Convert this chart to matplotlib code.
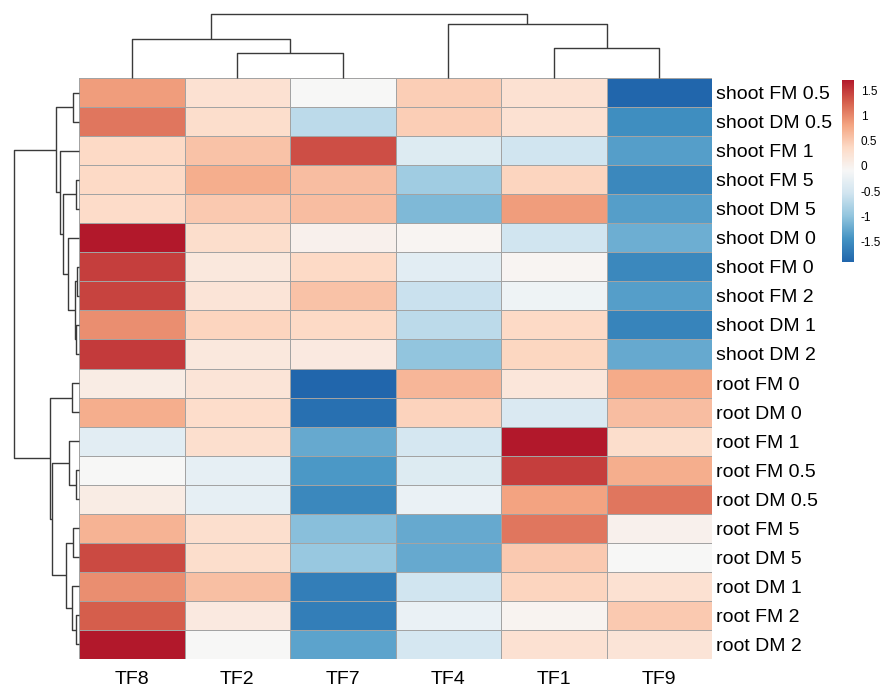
import numpy as np
import matplotlib
matplotlib.use("Agg")
import matplotlib.pyplot as plt
from matplotlib.colors import LinearSegmentedColormap

plt.rcParams['font.family'] = ['Liberation Sans', 'DejaVu Sans']
plt.rcParams['axes.unicode_minus'] = False

# ---------------- data ----------------
columns = ["TF8", "TF2", "TF7", "TF4", "TF1", "TF9"]
rows = ["shoot FM 0.5", "shoot DM 0.5", "shoot FM 1", "shoot FM 5", "shoot DM 5",
        "shoot DM 0", "shoot FM 0", "shoot FM 2", "shoot DM 1", "shoot DM 2",
        "root FM 0", "root DM 0", "root FM 1", "root FM 0.5", "root DM 0.5",
        "root FM 5", "root DM 5", "root DM 1", "root FM 2", "root DM 2"]

tf8 = [0.85, 1.10, 0.35, 0.35, 0.33, 1.70, 1.45, 1.42, 0.95, 1.48,
       0.08, 0.72, -0.35, -0.10, 0.08, 0.68, 1.38, 0.95, 1.25, 1.70]
tf2 = [0.25, 0.30, 0.55, 0.72, 0.50, 0.30, 0.15, 0.20, 0.40, 0.15,
       0.20, 0.32, 0.28, -0.30, -0.30, 0.28, 0.30, 0.58, 0.12, -0.10]
tf7 = [-0.10, -0.70, 1.35, 0.60, 0.60, 0.00, 0.35, 0.55, 0.35, 0.12,
       -1.90, -1.80, -1.25, -1.40, -1.55, -1.05, -0.95, -1.65, -1.65, -1.30]
tf4 = [0.45, 0.45, -0.40, -0.90, -1.10, -0.05, -0.35, -0.60, -0.70, -1.00,
       0.65, 0.42, -0.50, -0.40, -0.25, -1.25, -1.25, -0.55, -0.25, -0.50]
tf1 = [0.25, 0.25, -0.55, 0.40, 0.85, -0.55, -0.05, -0.20, 0.35, 0.38,
       0.18, -0.45, 1.70, 1.45, 0.80, 1.10, 0.50, 0.40, -0.03, 0.25]
tf9 = [-1.90, -1.50, -1.35, -1.55, -1.35, -1.20, -1.55, -1.35, -1.60, -1.25,
       0.75, 0.60, 0.30, 0.72, 1.10, 0.00, -0.10, 0.25, 0.50, 0.20]

# dendrogram merges: (child_a, child_b, height); ids >= n_leaves refer to earlier merges
row_merges = [(0, 1, 6.0), (3, 4, 2.7), (6, 7, 1.7), (8, 9, 2.7), (22, 23, 4.0),
              (5, 24, 10.7), (21, 25, 15.7), (2, 26, 19.3), (20, 27, 22.7),
              (10, 11, 7.3), (13, 14, 3.3), (12, 30, 10.0), (15, 16, 6.0),
              (18, 19, 2.7), (17, 33, 7.3), (32, 34, 13.3), (31, 35, 26.7),
              (29, 36, 29.3), (28, 37, 65.0)]
col_merges = [(1, 2, 25.0), (0, 6, 39.0), (4, 5, 30.4), (3, 8, 53.7), (7, 9, 64.4)]

cbar_ticks = [-1.5, -1, -0.5, 0, 0.5, 1, 1.5]
cbar_ticklabels = ["-1.5", "-1", "-0.5", "0", "0.5", "1", "1.5"]

# ---------------- figure ----------------
W, H = 883, 691
fig = plt.figure(figsize=(W / 100, H / 100), dpi=100)

def px_axes(x0, y0, x1, y1):
    return fig.add_axes([x0 / W, 1 - y1 / H, (x1 - x0) / W, (y1 - y0) / H])

values = np.column_stack([tf8, tf2, tf7, tf4, tf1, tf9])
vmin, vmax = -1.9, 1.7
cmap = LinearSegmentedColormap.from_list(
    "rdbu9", ["#2166AC", "#4393C3", "#92C5DE", "#D1E5F0", "#F7F7F7",
              "#FDDBC7", "#F4A582", "#D6604D", "#B2182B"])

hx0, hy0, hx1, hy1 = 79, 78, 712, 659
ax = px_axes(hx0, hy0, hx1, hy1)
ax.pcolormesh(values, cmap=cmap, vmin=vmin, vmax=vmax,
              edgecolors="#a3a3a3", linewidth=0.7)
ax.set_xlim(0, len(columns))
ax.set_ylim(len(rows), 0)
for s in ax.spines.values():
    s.set_visible(False)
ax.set_xticks(np.arange(len(columns)) + 0.5)
ax.set_xticklabels(columns, fontsize=14)
ax.set_yticks(np.arange(len(rows)) + 0.5)
ax.set_yticklabels(rows, fontsize=14)
ax.yaxis.tick_right()
ax.tick_params(axis="y", length=0, pad=3)
ax.tick_params(axis="x", length=0, pad=9)

def dendro_segments(merges, n):
    pos = {i: i + 0.5 for i in range(n)}
    hgt = {i: 0.0 for i in range(n)}
    segs = []
    for k, (a, b, h) in enumerate(merges):
        pa, pb = pos[a], pos[b]
        segs.append(([pa, pa, pb, pb], [hgt[a], h, h, hgt[b]]))
        pos[n + k] = (pa + pb) / 2
        hgt[n + k] = h
    return segs

lc = "#3a3a3a"
# top dendrogram
axt = px_axes(hx0, hy0 - 64.4, hx1, hy0)
for xs, ys in dendro_segments(col_merges, len(columns)):
    axt.plot(xs, ys, color=lc, lw=1.0, clip_on=False, solid_capstyle="butt")
axt.set_xlim(0, len(columns))
axt.set_ylim(0, 64.4)
axt.axis("off")

# left dendrogram
axl = px_axes(hx0 - 65, hy0, hx0, hy1)
for xs, ys in dendro_segments(row_merges, len(rows)):
    axl.plot(ys, xs, color=lc, lw=1.0, clip_on=False, solid_capstyle="butt")
axl.set_ylim(len(rows), 0)
axl.set_xlim(65, 0)
axl.axis("off")

# colorbar
axc = px_axes(842, 80, 854, 262)
grad = np.linspace(vmin, vmax, 256).reshape(-1, 1)
axc.imshow(grad, cmap=cmap, vmin=vmin, vmax=vmax, aspect="auto", origin="lower",
           extent=[0, 1, vmin, vmax])
axc.set_xticks([])
axc.yaxis.tick_right()
axc.set_yticks(cbar_ticks)
axc.set_yticklabels(cbar_ticklabels, fontsize=8.5)
axc.tick_params(axis="y", length=0, pad=5)
for s in axc.spines.values():
    s.set_visible(False)

fig.savefig("out.png", dpi=100)
